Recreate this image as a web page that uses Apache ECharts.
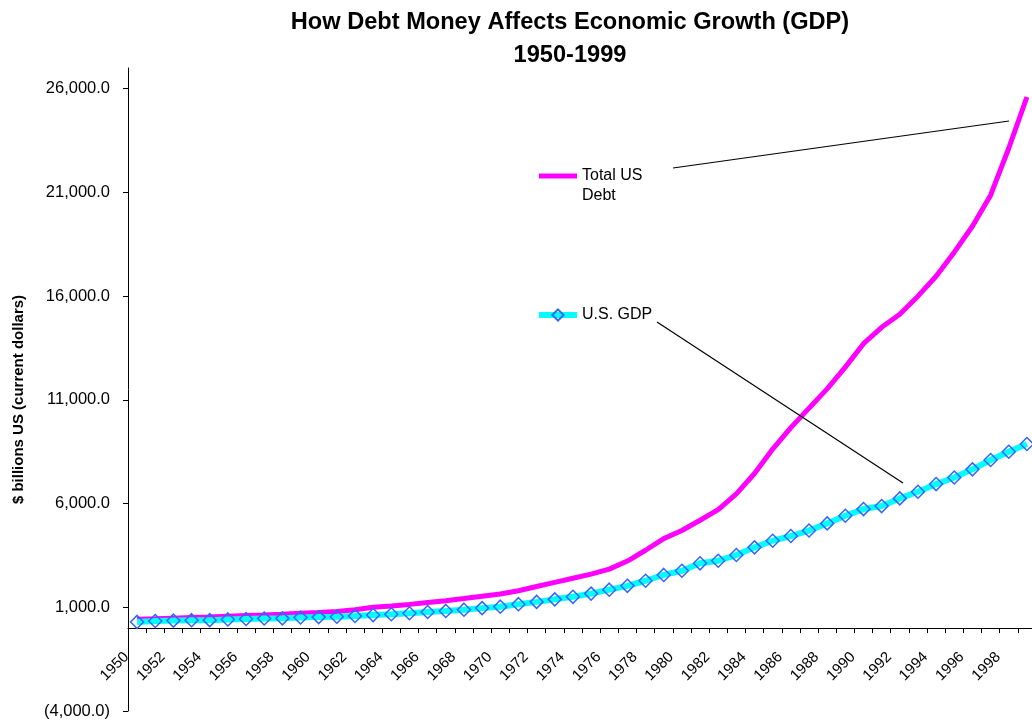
<!DOCTYPE html>
<html>
<head>
<meta charset="utf-8">
<script src="https://cdn.jsdelivr.net/npm/echarts@6/dist/echarts.min.js"></script>
<style>
html,body{margin:0;padding:0;background:#fff;}
#chart{width:1032px;height:721px;}
</style>
</head>
<body>
<div id="chart"></div>
<script>
const years = ['1950','1951','1952','1953','1954','1955','1956','1957','1958','1959',
  '1960','1961','1962','1963','1964','1965','1966','1967','1968','1969',
  '1970','1971','1972','1973','1974','1975','1976','1977','1978','1979',
  '1980','1981','1982','1983','1984','1985','1986','1987','1988','1989',
  '1990','1991','1992','1993','1994','1995','1996','1997','1998','1999'];

const totalDebt = [420,445,475,505,530,570,600,630,665,710,
  750,800,880,1000,1060,1140,1230,1320,1420,1530,
  1640,1800,2000,2200,2400,2600,2840,3230,3750,4310,
  4700,5195,5710,6470,7450,8630,9660,10600,11530,12580,
  13710,14500,15130,16000,16960,18120,19370,20870,23130,25600];

const gdp = [294,339,358,379,380,415,438,461,467,507,
  526,545,580,625,662,712,770,825,885,960,
  1030,1150,1260,1383,1505,1660,1850,2035,2280,2560,
  2760,3120,3245,3520,3890,4210,4435,4700,5045,5415,
  5735,5880,6250,6570,6940,7260,7650,8100,8500,8870];

const yTicks = [-4000,1000,6000,11000,16000,21000,26000];

const titleText = 'How Debt Money Affects Economic Growth (GDP)\n1950-1999';
const yName = '$ billions US (current dollars)';
const debtName = 'Total US Debt';
const gdpName = 'U.S. GDP';

function fmt(v){
  const s = Math.abs(v).toLocaleString('en-US',{minimumFractionDigits:1,maximumFractionDigits:1});
  return v < 0 ? '(' + s + ')' : s;
}

const FONT = 'Liberation Sans, Arial, sans-serif';
const chart = echarts.init(document.getElementById('chart'), null, {renderer:'canvas'});
chart.setOption({
  animation:false,
  backgroundColor:'#ffffff',
  textStyle:{fontFamily:FONT},
  title:{
    text:titleText,
    left:570,
    textAlign:'center',
    top:6,
    padding:0,
    textStyle:{fontFamily:FONT,fontSize:23.6,fontWeight:'bold',color:'#000',lineHeight:33}
  },
  grid:[
    {left:128,right:-4,top:68,bottom:10,outerBoundsMode:'none',containLabel:false},
    {left:128,right:-4,top:68,bottom:93,outerBoundsMode:'none',containLabel:false}
  ],
  legend:[
    {
      data:[{name:debtName,icon:'rect'}], left:539, top:144, padding:0,
      itemWidth:38, itemHeight:5,
      formatter:function(){return '\nTotal US\nDebt';},
      textStyle:{fontFamily:FONT,fontSize:16,color:'#000',lineHeight:20,padding:[4,0,0,0]}
    },
    {
      data:[gdpName], left:536, top:307, padding:0,
      itemWidth:38, itemHeight:14,
      lineStyle:{width:6},
      textStyle:{fontFamily:FONT,fontSize:16,color:'#000'}
    }
  ],
  xAxis:[
    {
      type:'category',
      gridIndex:0,
      data:years,
      boundaryGap:true,
      axisLine:{onZero:true,lineStyle:{color:'#000',width:1}},
      axisTick:{show:true,interval:0,alignWithLabel:false,length:5,inside:false,lineStyle:{color:'#000'}},
      axisLabel:{show:false},
      splitLine:{show:false}
    },
    {
      type:'category',
      gridIndex:1,
      data:years,
      boundaryGap:true,
      position:'bottom',
      axisLine:{show:false,onZero:false},
      axisTick:{show:false},
      axisLabel:{interval:1,rotate:45,margin:16,fontFamily:FONT,fontSize:15,color:'#000',padding:[0,15,0,0]},
      splitLine:{show:false}
    }
  ],
  yAxis:[
    {
      type:'value',
      gridIndex:0,
      min:-4000,max:27000,
      name:yName,
      nameLocation:'middle',
      nameGap:102,
      nameTextStyle:{fontFamily:FONT,fontSize:15,fontWeight:'bold',color:'#000',padding:[0,20,0,0]},
      axisLine:{show:true,lineStyle:{color:'#000',width:1}},
      axisTick:{show:true,length:5,customValues:yTicks,lineStyle:{color:'#000'}},
      axisLabel:{customValues:yTicks,formatter:fmt,margin:18,fontFamily:FONT,fontSize:16.5,color:'#000'},
      splitLine:{show:false}
    },
    {
      type:'value',
      gridIndex:1,
      min:0,max:1,
      show:false
    }
  ],
  series:[
    {
      name:debtName,
      type:'line',
      xAxisIndex:0,yAxisIndex:0,
      data:totalDebt,
      symbol:'none',
      showSymbol:false,
      lineStyle:{color:'#FF00FF',width:5},
      itemStyle:{color:'#FF00FF'},
      z:2
    },
    {
      name:gdpName,
      type:'line',
      xAxisIndex:0,yAxisIndex:0,
      data:gdp,
      symbol:'diamond',
      symbolSize:13,
      showSymbol:true,
      showAllSymbol:true,
      lineStyle:{color:'#00FFFF',width:6},
      itemStyle:{color:'rgba(0,0,0,0)',borderColor:'#3366FF',borderWidth:1.5},
      z:3
    }
  ],
  graphic:[
    {type:'line',shape:{x1:673,y1:168,x2:1009,y2:121},style:{stroke:'#000',lineWidth:1.2},z:10},
    {type:'line',shape:{x1:657,y1:322,x2:903,y2:483},style:{stroke:'#000',lineWidth:1.2},z:10}
  ]
});
</script>
</body>
</html>
